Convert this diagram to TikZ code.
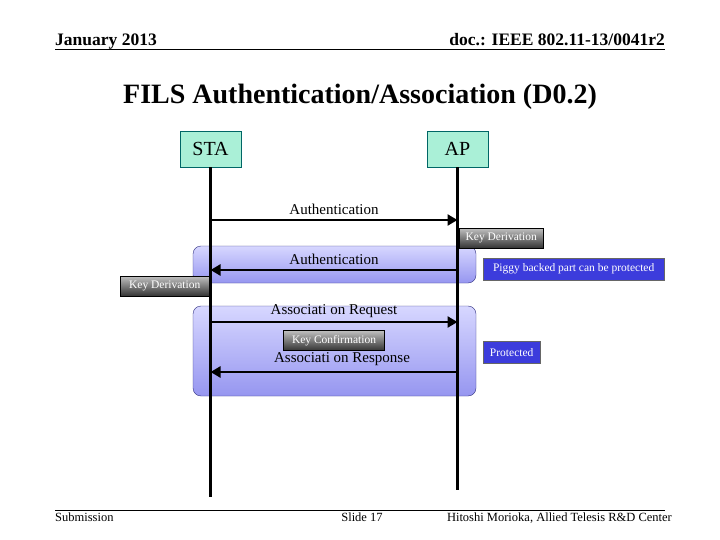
\documentclass[tikz,border=0pt]{standalone}
\usepackage{fontspec}
\setmainfont{Liberation Serif}
\usetikzlibrary{arrows.meta}
\begin{document}
\begin{tikzpicture}[x=1pt,y=-1pt,
  ent/.style={draw=teal!80!black,fill={rgb,255:red,170;green,240;blue,215},minimum width=61pt,minimum height=36pt,font=\fontsize{20}{22}\selectfont},
  region/.style={draw={rgb,255:red,50;green,50;blue,130},rounded corners=8pt,top color={rgb,255:red,215;green,215;blue,255},bottom color={rgb,255:red,150;green,150;blue,240}},
  kbox/.style={draw=black,top color=gray!50,bottom color=black!80,text=white,font=\fontsize{11.5}{12}\selectfont,inner sep=2pt,minimum height=20pt},
  bbox/.style={draw=black!60,fill={rgb,255:red,60;green,60;blue,220},text=white,font=\fontsize{11.5}{12}\selectfont,inner sep=2pt,minimum height=22pt},
  msg/.style={line width=2.8pt,-{Triangle[length=10pt,width=11pt]}},
  lbl/.style={font=\fontsize{15}{16}\selectfont}]
\useasboundingbox (0,0) rectangle (720,540);
\fill[white] (0,0) rectangle (720,540);
% header
\node[anchor=base west,font=\bfseries\fontsize{17.5}{18}\selectfont,inner sep=0pt] (hl) at (55,46) {January 2013};
\node[anchor=base east,font=\bfseries\fontsize{17.5}{18}\selectfont,inner sep=0pt] (hr) at (665,46) {doc.: IEEE 802.11-13/0041r2};
\draw[line width=0.8pt] (55,49) -- (665,49);
\node[font=\bfseries\fontsize{28}{30}\selectfont] (title) at (360,97) {FILS Authentication/Association (D0.2)};
% regions
\node[region,minimum width=283pt,minimum height=37pt] (r1) at (334.5,264.5) {};
\node[region,minimum width=283pt,minimum height=90pt] (r2) at (334.5,351) {};
% entities
\node[ent] (sta) at (210.5,149) {STA};
\node[ent] (ap) at (457.5,149) {AP};
\coordinate (staE) at (210.5,497);
\coordinate (apE) at (457.5,490);
\draw[line width=2.8pt] (sta.south) -- (staE);
\draw[line width=2.8pt] (ap.south) -- (apE);
% messages
\coordinate (s1) at (210.5,220); \coordinate (a1) at (457.5,220);
\draw[msg] (s1) -- node[lbl,above=1pt] {Authentication} (a1);
\coordinate (s2) at (210.5,270); \coordinate (a2) at (457.5,270);
\draw[msg] (a2) -- node[lbl,above=1pt] {Authentication} (s2);
\coordinate (s3) at (210.5,322); \coordinate (a3) at (457.5,322);
\draw[msg] (s3) -- node[lbl,above=0pt] {Associati on Request} (a3);
\coordinate (s4) at (210.5,372); \coordinate (a4) at (457.5,372);
\draw[msg] (a4) -- node[lbl,above=2pt,xshift=8pt] {Associati on Response} (s4);
% labels boxes
\node[kbox,anchor=north west,minimum width=84pt] (kd1) at (459,228) {Key Derivation};
\node[kbox,anchor=north west,minimum width=89pt] (kd2) at (120,276) {Key Derivation};
\node[kbox,minimum width=101pt] (kc) at (334,340.5) {Key Confirmation};
\node[bbox,anchor=north west,minimum width=181pt] (pg) at (483,258) {Piggy backed part can be protected};
\node[bbox,anchor=north west,minimum width=57pt] (pr) at (483,341) {Protected};
% footer
\draw[line width=0.6pt] (55,510) -- (665,510);
\node[anchor=base west,font=\fontsize{12.5}{14}\selectfont,inner sep=0pt] (f1) at (55,521) {Submission};
\node[anchor=base,font=\fontsize{12.5}{14}\selectfont,inner sep=0pt] (f2) at (362,521) {Slide 17};
\node[anchor=base east,font=\fontsize{12.5}{14}\selectfont,inner sep=0pt] (f3) at (672,521) {Hitoshi Morioka, Allied Telesis R\&D Center};
\end{tikzpicture}
\end{document}
